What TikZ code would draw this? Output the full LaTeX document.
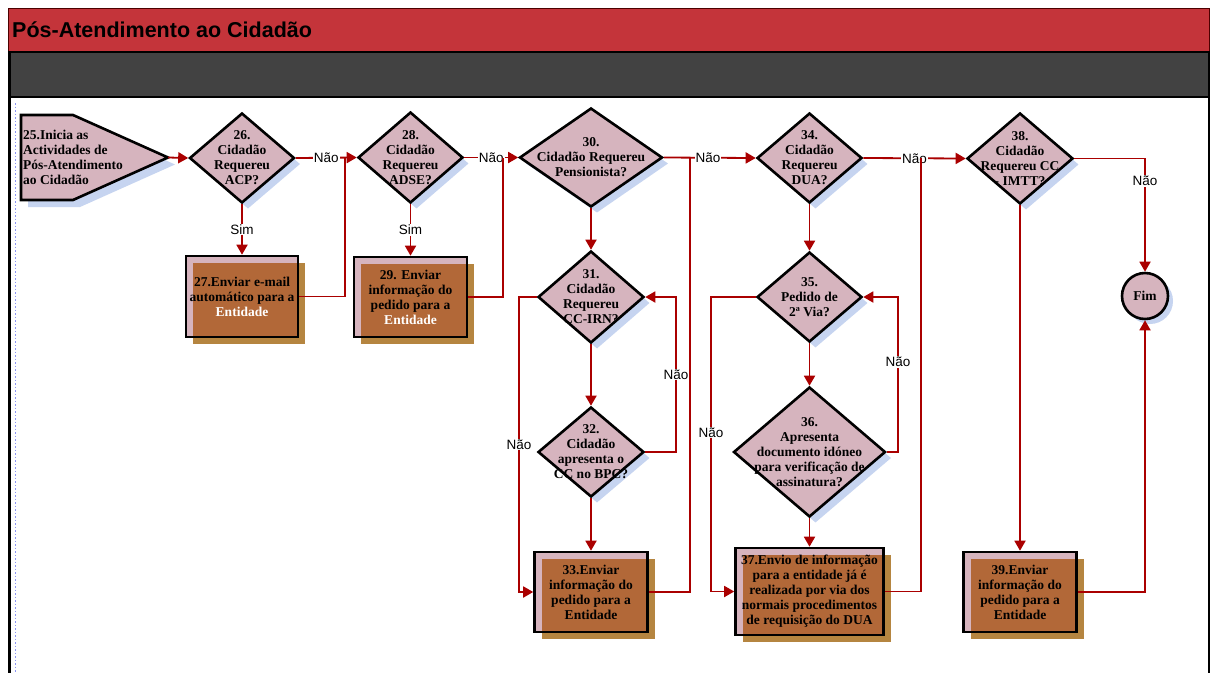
\documentclass[tikz,border=0pt]{standalone}
\usepackage{fontspec}
\setmainfont{Liberation Serif}
\newfontfamily\arialfont{Liberation Sans}
\usepackage{tikz}
\usetikzlibrary{shadows}
\usetikzlibrary{positioning}
\usetikzlibrary{arrows.meta,shapes}
\usetikzlibrary{shapes.geometric}

\definecolor{titlered}{RGB}{196,52,58}
\definecolor{bargrey}{RGB}{66,66,66}
\definecolor{flowred}{RGB}{170,0,0}
\definecolor{dpink}{RGB}{214,180,190}
\definecolor{boxbrown}{RGB}{178,104,56}
\definecolor{boxshade}{RGB}{181,133,64}
\definecolor{dshade}{RGB}{198,212,240}

\begin{document}
\begin{tikzpicture}[x=1pt, y=-1pt,
  flow/.style={draw=flowred, line width=1.8pt, -{Triangle[length=10pt,width=11pt]}},
  link/.style={draw=flowred, line width=1.8pt},
  ans/.style={font=\arialfont\fontsize{13.5}{15}\selectfont, fill=white, inner sep=1pt},
  txt/.style={align=center, font=\bfseries\fontsize{13.5}{15}\selectfont},
  dec/.style={diamond, draw=black, line width=2.6pt, fill=dpink, inner sep=0pt,
    general shadow={fill=dshade, shadow xshift=6pt, shadow yshift=-6pt}},
  task/.style={rectangle, draw=black, line width=2.6pt, fill=boxbrown, inner sep=0pt,
    align=center, font=\bfseries\fontsize{13.5}{15}\selectfont,
    general shadow={fill=boxshade, shadow xshift=7pt, shadow yshift=-7pt},
    path picture={
      \fill[dpink] (path picture bounding box.north west) rectangle ([yshift=-7pt]path picture bounding box.north east);
      \fill[dpink] (path picture bounding box.north west) rectangle ([xshift=7pt]path picture bounding box.south west);
    }},
]
\useasboundingbox (0,0) rectangle (1215,673);
\fill[white] (0,0) rectangle (1215,673);

% title and grey band
\fill[titlered] (8,8) rectangle (1209,52);
\draw[black!70!red, line width=1pt] (8,8) rectangle (1209,52);
\node[anchor=west, inner sep=0pt, font=\arialfont\bfseries\fontsize{21.5}{24}\selectfont] (title) at (12,30) {Pós-Atendimento ao Cidadão};
\fill[bargrey] (8,52) rectangle (1210,97);
\draw[black, line width=2pt] (8,52) -- (1210,52);
\draw[black, line width=2.5pt] (8,97) -- (1210,97);
\draw[black, line width=3pt] (9.5,52) -- (9.5,673);
\draw[black, line width=2pt] (1209,52) -- (1209,673);
\draw[dshade!70!blue, dotted, line width=1.5pt] (15.5,103) -- (15.5,673);

% start
\draw[fill=dpink, draw=black, line width=2.6pt, general shadow={fill=dshade, shadow xshift=7pt, shadow yshift=-7pt}]
  (21,115) -- (73,115) -- (168,157.5) -- (73,200) -- (21,200) -- cycle;
\coordinate (n25) at (168,157.5);
\node[anchor=west, align=left, inner sep=0pt, font=\bfseries\fontsize{13.5}{15}\selectfont] (t25) at (23,157)
  {25.Inicia as\\Actividades de\\Pós-Atendimento\\ao Cidadão};

% decisions
\node[dec, minimum width=105pt, minimum height=90pt] (d26) at (242,158) {};
\node[txt] at (d26) {26.\\Cidadão\\Requereu\\ACP?};
\node[dec, minimum width=105pt, minimum height=91pt] (d28) at (410.5,157.5) {};
\node[txt] at (d28) {28.\\Cidadão\\Requereu\\ADSE?};
\node[dec, minimum width=143pt, minimum height=99pt] (d30) at (591,157.5) {};
\node[txt] at (d30) {30.\\Cidadão Requereu\\Pensionista?};
\node[dec, minimum width=106pt, minimum height=92pt] (d31) at (591,297) {};
\node[txt] at (d31) {31.\\Cidadão\\Requereu\\CC-IRN?};
\node[dec, minimum width=106pt, minimum height=90pt] (d32) at (591,452) {};
\node[txt] at (d32) {32.\\Cidadão\\apresenta o\\CC no BPC?};
\node[dec, minimum width=105pt, minimum height=90pt] (d34) at (809.5,158) {};
\node[txt] at (d34) {34.\\Cidadão\\Requereu\\DUA?};
\node[dec, minimum width=105pt, minimum height=90pt] (d35) at (809.5,297) {};
\node[txt] at (d35) {35.\\Pedido de\\2ª Via?};
\node[dec, minimum width=152pt, minimum height=130pt] (d36) at (809.5,452) {};
\node[txt] at (d36) {36.\\Apresenta\\documento idóneo\\para verificação de\\assinatura?};
\node[dec, minimum width=106pt, minimum height=91pt] (d38) at (1020,158.5) {};
\node[txt] at (d38) {38.\\Cidadão\\Requereu CC\\- IMTT?};

% tasks
\node[task, minimum width=112pt, minimum height=81pt] (b27) at (242,296.5)
  {27.Enviar e-mail\\automático para a\\\textcolor{white}{Entidade}};
\node[task, minimum width=113pt, minimum height=80pt] (b29) at (410.5,297)
  {29. Enviar\\informação do\\pedido para a\\\textcolor{white}{Entidade}};
\node[task, minimum width=113pt, minimum height=80pt] (b33) at (591,592)
  {33.Enviar\\informação do\\pedido para a\\Entidade};
\node[task, minimum width=148pt, minimum height=87pt] (b37) at (809.5,591.5)
  {37.Envio de informação\\para a entidade já é\\realizada por via dos\\normais procedimentos\\de requisição do DUA};
\node[task, minimum width=113pt, minimum height=80pt] (b39) at (1020,592)
  {39.Enviar\\informação do\\pedido para a\\Entidade};

% end
\node[circle, draw=black, line width=2.6pt, fill=dpink, minimum size=46pt, inner sep=0pt,
  font=\bfseries\fontsize{13.5}{15}\selectfont,
  general shadow={fill=dshade, shadow xshift=5pt, shadow yshift=-5pt}] (fim) at (1145,296) {Fim};

% junctions
\coordinate (c26) at (345,158);
\coordinate (c28) at (503,157.5);
\coordinate (c30) at (690,158);
\coordinate (c34) at (921,158);
\coordinate (l31) at (519,297);
\coordinate (r32) at (676,452);
\coordinate (l35) at (711,297);
\coordinate (r36) at (898,452);

% connectors
\draw[flow] (n25) -- (d26.west);
\draw[flow] (d26.east) -- node[ans]{Não} (d28.west);
\draw[flow] (d26.south) -- node[ans]{Sim} (b27.north);
\draw[link] (b27.east) -| (c26);
\draw[flow] (d28.east) -- node[ans]{Não} (d30.west);
\draw[flow] (d28.south) -- node[ans]{Sim} (b29.north);
\draw[link] (b29.east) -| (c28);
\draw[flow] (d30.east) -- node[ans, pos=0.48]{Não} (d34.west);
\draw[flow] (d30.south) -- (d31.north);
\draw[flow] (d31.south) -- (d32.north);
\draw[flow] (d32.south) -- (b33.north);
\draw[flow] (d31.west) -- (l31) |- node[ans, pos=0.25]{Não} (b33.west);
\draw[flow] (d32.east) -- (r32) |- node[ans, pos=0.25]{Não} (d31.east);
\draw[link] (b33.east) -| (c30);
\draw[flow] (d34.east) -- node[ans]{Não} (d38.west);
\draw[flow] (d34.south) -- (d35.north);
\draw[flow] (d35.south) -- (d36.north);
\draw[flow] (d36.south) -- (b37.north);
\draw[flow] (d35.west) -- (l35) |- node[ans, pos=0.23]{Não} (b37.west);
\draw[flow] (d36.east) -- (r36) |- node[ans, pos=0.29]{Não} (d35.east);
\draw[link] (b37.east) -| (c34);
\draw[flow] (d38.east) -| node[ans, pos=0.6]{Não} (fim.north);
\draw[flow] (d38.south) -- (b39.north);
\draw[flow] (b39.east) -| (fim.south);

\end{tikzpicture}
\end{document}
